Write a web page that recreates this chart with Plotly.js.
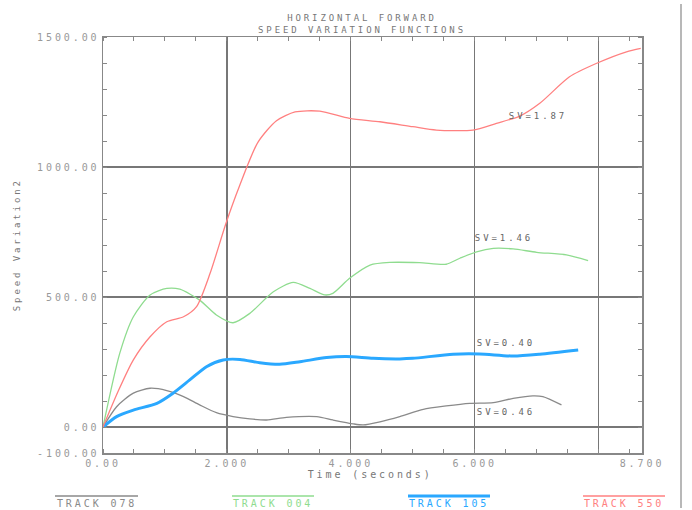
<!DOCTYPE html>
<html>
<head>
<meta charset="utf-8">
<script src="https://cdn.plot.ly/plotly-3.0.1.min.js"></script>
<style>
  html, body { margin: 0; padding: 0; background: #fff; }
  #chart { width: 692px; height: 510px; }
  #chart svg text { letter-spacing: 2.9px; }
</style>
</head>
<body>
<div id="chart"></div>
<script>
// ---- Data ----
const seriesNames = ["TRACK 078", "TRACK 004", "TRACK 105", "TRACK 550"];

const t078 = [0, 0.22, 0.49, 0.76, 1.03, 1.30, 1.56, 1.83, 2.10, 2.37, 2.64, 2.96, 3.45, 3.71, 4.04, 4.20, 4.47, 4.79, 5.17, 5.54, 5.92, 6.30, 6.62, 6.94, 7.10, 7.40];
const v078 = [0, 78, 130, 149, 140, 117, 85, 55, 40, 31, 27, 37, 40, 27, 12, 8, 20, 40, 68, 81, 91, 94, 110, 120, 117, 85];

const t004 = [0, 0.27, 0.49, 0.76, 1.03, 1.24, 1.56, 1.83, 2.10, 2.37, 2.75, 3.07, 3.34, 3.58, 3.71, 3.98, 4.31, 4.63, 5.11, 5.54, 5.76, 6.03, 6.30, 6.62, 7.00, 7.48, 7.83];
const v004 = [0, 283, 424, 508, 533, 530, 488, 431, 401, 437, 520, 556, 533, 508, 514, 572, 623, 633, 632, 626, 649, 674, 687, 685, 672, 662, 640];

const t105 = [0, 0.22, 0.49, 0.87, 1.13, 1.40, 1.67, 1.94, 2.21, 2.53, 2.85, 3.18, 3.61, 3.93, 4.36, 4.79, 5.00, 5.65, 6.08, 6.62, 7.05, 7.67];
const v105 = [0, 40, 65, 91, 130, 181, 232, 258, 260, 247, 241, 251, 267, 271, 264, 262, 264, 280, 281, 273, 280, 296];

const t550 = [0, 0.25, 0.49, 0.76, 1.03, 1.30, 1.51, 1.73, 1.98, 2.20, 2.50, 2.80, 3.10, 3.50, 3.98, 4.47, 5.00, 5.38, 5.97, 6.35, 6.73, 7.05, 7.53, 7.96, 8.45, 8.68];
const v550 = [0, 140, 258, 347, 405, 424, 463, 592, 780, 925, 1095, 1178, 1212, 1215, 1187, 1174, 1155, 1142, 1142, 1168, 1196, 1245, 1347, 1398, 1443, 1456];

const svLabels = ["SV=0.46", "SV=1.46", "SV=0.40", "SV=1.87"];

const xTickVals = [0, 2, 4, 6, 8, 8.7];
const xTickText = ["0.00", "2.000", "4.000", "6.000", "", "8.700"];
const yTickVals = [-100, 0, 500, 1000, 1500];
const yTickText = ["-100.00", "0.00", "500.00", "1000.00", "1500.00"];

// ---- Styling ----
const FONT = "DejaVu Sans Mono, Liberation Mono, monospace";
const colors = ["#8a8a8a", "#8fdc8f", "#2aa8ff", "#ff8080"];
const widths = [1.3, 1.3, 3, 1.3];
const xs = [t078, t004, t105, t550];
const ys = [v078, v004, v105, v550];

const traces = seriesNames.map((n, i) => ({
  type: "scatter", mode: "lines", name: n,
  x: xs[i], y: ys[i],
  line: { color: colors[i], width: widths[i], shape: "spline", smoothing: 0.7 },
  showlegend: false, hoverinfo: "skip"
}));

// plot area in pixels: x 103..642, y 37..453
const L = 103, R = 642, T = 37, B = 453;
const px = x => (x - L) / (R - L);
const py = y => (B - y) / (B - T);

const legendSpans = [[55, 138], [232, 314], [408, 490], [583, 665]];
const shapes = [];
const annotations = [];
legendSpans.forEach((s, i) => {
  shapes.push({ type: "line", xref: "paper", yref: "paper",
    x0: px(s[0]), x1: px(s[1]), y0: py(496), y1: py(496),
    line: { color: colors[i], width: i === 2 ? 3 : 1.5 } });
  annotations.push({ xref: "paper", yref: "paper", x: px((s[0] + s[1]) / 2), y: py(504),
    text: seriesNames[i], showarrow: false, xanchor: "center", yanchor: "middle",
    font: { family: FONT, size: 10, color: colors[i] } });
});
// page frame line at far right
shapes.push({ type: "line", xref: "paper", yref: "paper",
  x0: px(681), x1: px(681), y0: py(4), y1: py(508),
  line: { color: "#a0a0a0", width: 1.5 } });

// SV labels placed at data coords
const svPos = [[6.16, 58], [6.13, 727], [6.16, 323], [6.68, 1196]];
svPos.forEach((p, i) => {
  annotations.push({ xref: "x", yref: "y", x: p[0], y: p[1], text: svLabels[i],
    showarrow: false, xanchor: "left", yanchor: "middle",
    font: { family: FONT, size: 9, color: "#666" } });
});

// axis titles
annotations.push({ xref: "paper", yref: "paper", x: px(17), y: py(245), text: "Speed Variation2",
  textangle: -90, showarrow: false, xanchor: "center", yanchor: "middle",
  font: { family: FONT, size: 9, color: "#777" } });
annotations.push({ xref: "paper", yref: "paper", x: px(370), y: py(474), text: "Time (seconds)",
  showarrow: false, xanchor: "center", yanchor: "middle",
  font: { family: FONT, size: 10, color: "#777" } });

const axisCommon = {
  showline: true, linecolor: "#888", linewidth: 1.5, mirror: "ticks",
  showgrid: true, gridcolor: "#777", gridwidth: 1.2,
  zeroline: false, ticks: "", fixedrange: true,
  tickfont: { family: FONT, size: 10, color: "#999" }
};

const layout = {
  width: 692, height: 510,
  margin: { l: L, r: 692 - R, t: T, b: 510 - B },
  paper_bgcolor: "#fff", plot_bgcolor: "#fff",
  title: { text: "HORIZONTAL FORWARD<br>SPEED VARIATION FUNCTIONS",
    xref: "paper", x: px(362), xanchor: "center",
    yref: "container", y: 1 - 21 / 510, yanchor: "top",
    font: { family: FONT, size: 9, color: "#777" } },
  xaxis: Object.assign({}, axisCommon, {
    range: [0, 8.7], tickmode: "array", tickvals: xTickVals, ticktext: xTickText,
    minor: { dtick: 0.5, tick0: 0, ticks: "inside", ticklen: 4, tickcolor: "#888", showgrid: false }
  }),
  yaxis: Object.assign({}, axisCommon, {
    range: [-100, 1500], tickmode: "array", tickvals: yTickVals, ticktext: yTickText,
    minor: { dtick: 100, tick0: 0, ticks: "inside", ticklen: 4, tickcolor: "#888", showgrid: false }
  }),
  shapes: shapes,
  annotations: annotations,
  showlegend: false
};

Plotly.newPlot("chart", traces, layout, { displayModeBar: false, staticPlot: true });
</script>
</body>
</html>
